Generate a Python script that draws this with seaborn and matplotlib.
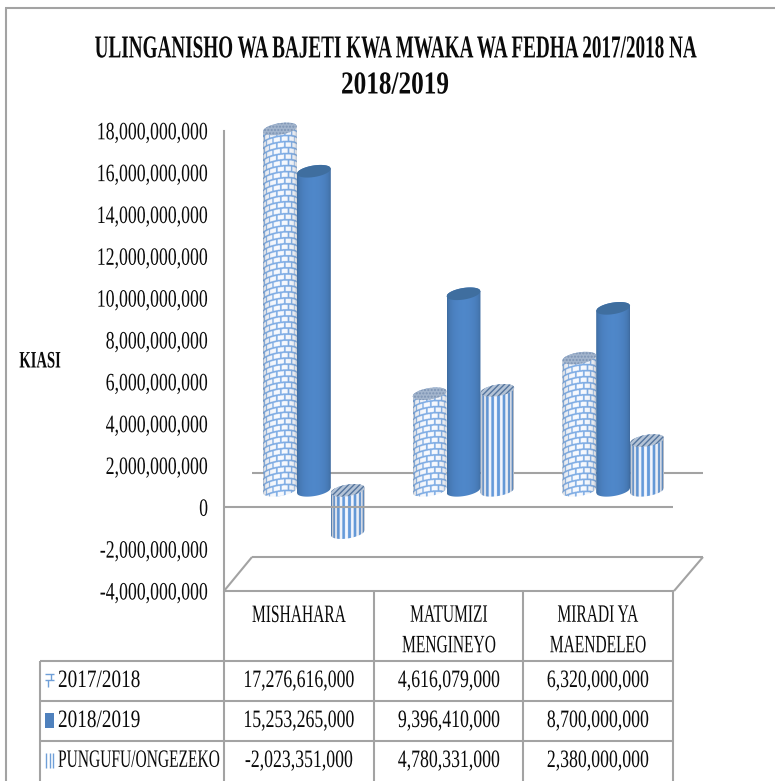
import numpy as np
import pandas as pd
import matplotlib
matplotlib.use('Agg')
import matplotlib.pyplot as plt
import seaborn as sns
from matplotlib.patches import Polygon, Rectangle
from matplotlib.patheffects import AbstractPathEffect
from matplotlib.ticker import FuncFormatter
from matplotlib.transforms import Affine2D

# Chart values
categories = ['MISHAHARA', 'MATUMIZI\nMENGINEYO', 'MIRADI YA\nMAENDELEO']
series = ['2017/2018', '2018/2019', 'PUNGUFU/ONGEZEKO']
values_2017 = [17276616000, 4616079000, 6320000000]
values_2018 = [15253265000, 9396410000, 8700000000]
values_diff = [-2023351000, 4780331000, 2380000000]
y_ticks = list(range(-4000000000, 18000000001, 2000000000))
title_lines = ['ULINGANISHO WA BAJETI KWA MWAKA WA FEDHA 2017/2018 NA', '2018/2019']
y_label = 'KIASI'

W, H = 775, 781
GREY = '#a3a3a3'
PX_PER_BILLION = 20.9


# The original font is a narrow serif, so rescale the glyphs around the text anchor
class Squeeze(AbstractPathEffect):
    def __init__(self, cx, cy, sx, sy=1):
        super().__init__()
        self.cx, self.cy = cx, cy
        self.sx, self.sy = sx, sy

    def draw_path(self, renderer, gc, tpath, affine, rgbFace=None):
        squeeze = (Affine2D().translate(-self.cx, -self.cy)
                   .scale(self.sx, self.sy).translate(self.cx, self.cy))
        renderer.draw_path(gc, tpath, affine + squeeze, rgbFace)


def axes_px(left, top, right, bottom, zorder):
    ax = fig.add_axes([left / W, 1 - bottom / H, (right - left) / W, (bottom - top) / H], zorder=zorder)
    ax.patch.set_alpha(0)
    return ax


def put_text(x, y, s, sx, size=18, ha='center', weight='normal', shrink=1):
    # shrink lowers the nominal font size, the effect scales the glyphs back up
    t = layout.text(x, y, s, ha=ha, va='center', fontsize=size * shrink, fontweight=weight,
                    color='#0a0a0a', linespacing=1.5)
    t.set_path_effects([Squeeze(x, H - y, sx / shrink, 1 / shrink)])
    return t


def texture(kind, w, h):
    # Cylinder surface, sampled three times per pixel
    sub = 3
    w, h = int(w * sub), int(h * sub)
    u = np.linspace(-0.98, 0.98, w)
    theta = np.arcsin(u)
    xx, yy = np.meshgrid(theta, np.arange(h) / sub)
    img = np.ones((h, w, 3))
    if kind == 'solid':
        img[:] = [0.31, 0.53, 0.79]
        shade = 0.70 + 0.30 * np.cos(xx) ** 0.8
    elif kind == 'brick':
        row_h = 6.0
        yb = yy + 5 * np.cos(xx) + 2.5 * np.sin(xx)
        row = np.floor(yb / row_h)
        xb = xx / 0.47 * 10 + 5 * (row % 2)
        mortar = ((yb % row_h) < 1.7) | ((xb % 10) < 2.0)
        img[mortar] = [0.50, 0.68, 0.90]
        img[~mortar] = [0.97, 0.98, 1.0]
        shade = 0.55 + 0.45 * np.cos(xx) ** 0.3
    else:
        stripe = ((xx * 2.9) % 1) < 0.5
        img[stripe] = [0.40, 0.61, 0.86]
        img[~stripe] = [0.96, 0.97, 1.0]
        shade = 0.48 + 0.52 * np.cos(xx) ** 0.4
    return img * shade[:, :, None]


def arc_points(cx, rx, yc, upper):
    # Tilted ellipse edge, in data units of the bars axes
    u = np.linspace(-1, 1, 41)
    sign = 1 if upper else -1
    ys = yc + (2.5 * u + sign * 5.8 * np.sqrt(1 - u ** 2)) * 1e9 / PX_PER_BILLION
    return np.column_stack([cx + rx * u, ys])


sns.set_theme(style='white')
plt.rcParams['font.family'] = ['Liberation Serif', 'DejaVu Serif']

df = pd.DataFrame({
    'Kundi': categories * 3,
    'Mwaka': np.repeat(series, 3),
    'Kiasi': values_2017 + values_2018 + values_diff,
})

fig = plt.figure(figsize=(W / 100, H / 100), dpi=100, facecolor='white')

# Pixel canvas for the frame, floor and data table
layout = fig.add_axes([0, 0, 1, 1], zorder=0)
layout.set_axis_off()
line_kw = dict(color=GREY, lw=1.5, solid_capstyle='butt')
layout.plot([5, 775], [8, 8], **line_kw)
layout.plot([6, 6], [8, 781], **line_kw)
layout.plot([252, 703], [473, 473], **line_kw)
layout.plot([252, 703], [557, 557], **line_kw)
layout.plot([224, 252], [591, 557], **line_kw)
layout.plot([674, 703], [591, 557], **line_kw)
for x in [224, 374, 523, 673]:
    layout.plot([x, x], [591, 781], **line_kw)
layout.plot([40, 40], [661, 781], **line_kw)
layout.plot([224, 674], [591, 591], **line_kw)
for y in [661, 701, 741]:
    layout.plot([40, 673], [y, y], **line_kw)

put_text(395, 50, title_lines[0], 0.60, size=23, weight='bold', shrink=0.74)
put_text(395, 86, title_lines[1], 0.79, size=23, weight='bold')
put_text(40, 362, y_label, 0.62, size=17, weight='bold')

col_x = [299, 449, 598]
cat_y = [616, 631, 631]
for x, y, name in zip(col_x, cat_y, categories):
    put_text(x, y, name, 0.62)

rows = [values_2017, values_2018, values_diff]
row_y = [681, 721, 761]
label_sx = [0.77, 0.77, 0.62]
label_shrink = [1, 1, 0.6]
for y, name, vals, sx, shrink in zip(row_y, series, rows, label_sx, label_shrink):
    put_text(58, y, name, sx, ha='left', shrink=shrink)
    for x, v in zip(col_x, vals):
        put_text(x, y, f'{v:,}', 0.71)

# Legend keys in the table
key_kw = dict(color='#6f9fd8', lw=1, solid_capstyle='butt')
layout.plot([45, 54], [674, 674], **key_kw)
layout.plot([45, 54], [680, 680], **key_kw)
layout.plot([51, 51], [674, 680], **key_kw)
layout.plot([48, 48], [680, 687], **key_kw)
layout.add_patch(Rectangle((45, 713), 9, 15, facecolor='#4f81bd', lw=0))
for x in [46, 49.5, 53]:
    layout.plot([x, x], [753, 768], **key_kw)
layout.set_xlim(0, W)
layout.set_ylim(H, 0)

# Cylinders sit on a plane shifted up and to the right of the front axis
ax_bars = axes_px(239, 113.8, 688, 574, zorder=1)
sns.barplot(data=df, x='Kundi', y='Kiasi', hue='Mwaka', order=categories, hue_order=series,
            width=0.68, gap=0, legend=False, ax=ax_bars)
ax_bars.set_axis_off()
y_bottom, y_top = -4e9, 18e9
kinds = ['brick', 'solid', 'stripes']
plt.rcParams['hatch.linewidth'] = 1.0
cap_style = [
    dict(facecolor='#a3b5cd', edgecolor='#7d94b4', hatch='.....'),
    dict(facecolor='#3f6e9f', edgecolor='#3f6e9f'),
    dict(facecolor='#b4c3d6', edgecolor='#55759e', hatch='//////'),
]
for container, kind, cap in zip(ax_bars.containers, kinds, cap_style):
    for bar in container:
        x0, w = bar.get_x(), bar.get_width()
        cx, rx = x0 + w / 2, w / 2
        top = max(bar.get_y(), bar.get_y() + bar.get_height())
        low = min(bar.get_y(), bar.get_y() + bar.get_height())
        bar.set_visible(False)
        margin = 12 * 1e9 / PX_PER_BILLION
        h_px = (top - low + 2 * margin) / 1e9 * PX_PER_BILLION
        im = ax_bars.imshow(texture(kind, 34, h_px), aspect='auto', zorder=3,
                            extent=(x0, x0 + w, low - margin, top + margin))
        body = np.vstack([arc_points(cx, rx, low, False), arc_points(cx, rx, top, True)[::-1]])
        outline = Polygon(body, closed=True, facecolor='none', lw=0, transform=ax_bars.transData)
        ax_bars.add_patch(outline)
        im.set_clip_path(outline)
        top_cap = np.vstack([arc_points(cx, rx, top, False), arc_points(cx, rx, top, True)[::-1]])
        ax_bars.add_patch(Polygon(top_cap, closed=True, lw=0, zorder=4, **cap))
ax_bars.set_xlim(-0.5, 2.5)
ax_bars.set_ylim(y_bottom, y_top)

# Front axis with the value labels
ax = axes_px(224, 507 - 18 * PX_PER_BILLION, 673, 591, zorder=2)
sns.despine(ax=ax, top=True, right=True, bottom=True)
ax.set_ylim(y_bottom, y_top)
ax.set_xlim(0, 1)
ax.set_xticks([])
ax.set_yticks(y_ticks)
ax.yaxis.set_major_formatter(FuncFormatter(lambda v, pos: f'{int(v):,}'))
ax.tick_params(axis='y', length=0, pad=11.5, labelsize=18, labelcolor='#0a0a0a')
ax.spines['left'].set_color(GREY)
ax.spines['left'].set_linewidth(1.5)
ax.axhline(0, color=GREY, lw=1.5)
fig.canvas.draw()
for label in ax.get_yticklabels():
    label.set_path_effects([Squeeze(208, 0, 0.71)])

fig.savefig('out.png', dpi=100, facecolor='white')
